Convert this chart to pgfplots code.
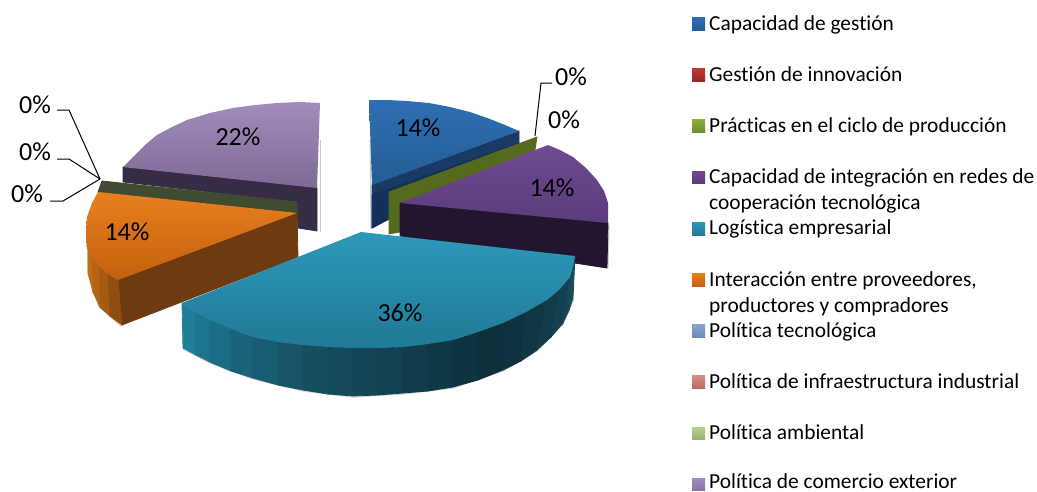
\documentclass[border=0pt]{standalone}
\usepackage{fontspec}
\setmainfont[Ligatures=NoCommon]{Carlito}
\usepackage{pgfplots}
\pgfplotsset{compat=1.18}
\definecolor{tA}{HTML}{1F7F9B}
\definecolor{tB}{HTML}{175468}
\definecolor{tC}{HTML}{0D2F3B}
\definecolor{tD}{HTML}{1A5060}
\definecolor{oA}{HTML}{C46E14}
\definecolor{oB}{HTML}{7A3F0F}
\definecolor{c1}{HTML}{2F6EB3}\definecolor{c1b}{HTML}{245D95}
\definecolor{c2}{HTML}{A28CBC}\definecolor{c2b}{HTML}{7D6A96}
\definecolor{c3}{HTML}{E8801F}\definecolor{c3b}{HTML}{C4600F}
\definecolor{c4}{HTML}{6F4A92}\definecolor{c4b}{HTML}{5A3C7C}
\definecolor{c5}{HTML}{2E98B8}\definecolor{c5b}{HTML}{1F7A96}
\definecolor{k2}{HTML}{C03A38}\definecolor{k2b}{HTML}{96282A}
\definecolor{k3}{HTML}{8CB040}\definecolor{k3b}{HTML}{6F8E2C}
\definecolor{k7}{HTML}{8AA6D2}\definecolor{k7b}{HTML}{6C8ABA}
\definecolor{k8}{HTML}{DC8C8A}\definecolor{k8b}{HTML}{B86C6A}
\definecolor{k9}{HTML}{B4D290}\definecolor{k9b}{HTML}{96B474}
\definecolor{k10}{HTML}{A28CBC}\definecolor{k10b}{HTML}{8874A2}
\definecolor{f1}{HTML}{1A3A66}\definecolor{f2}{HTML}{12305A}
\definecolor{f3}{HTML}{372C46}\definecolor{f4}{HTML}{3F4C2F}
\definecolor{f5}{HTML}{6E3A10}\definecolor{f6}{HTML}{55691F}
\definecolor{f7}{HTML}{221530}
\newcommand{\band}[2]{\addplot[fill=#1,draw=#1,line width=0.8pt] coordinates {#2} --cycle;}
\newcommand{\grd}[3]{\addplot[top color=#1,bottom color=#2,draw=none] coordinates {#3} --cycle;}
\newcommand{\lab}[3]{\node[font=\fontsize{26}{30}\selectfont,inner sep=0pt] at (axis cs:#1,#2) {#3};}
\newcommand{\legt}[2]{\node[font=\fontsize{21.4}{25}\selectfont,anchor=base west,inner sep=0pt] at (axis cs:709,#1) {#2};}
\begin{document}
\begin{tikzpicture}
\begin{axis}[scale only axis,width=1037pt,height=491pt,xmin=0,xmax=1037,ymin=0,ymax=491,y dir=reverse,axis lines=none,clip=false,no markers,every axis plot/.append style={forget plot}]
% shadows
\addplot[draw=black!22,line width=1pt] coordinates {(370,140) (371,228)};
\addplot[draw=black!22,line width=1pt] coordinates {(320,140) (320,232)};
\addplot[draw=black!18,line width=1.2pt] coordinates {(183,349) (210,363) (253,379) (303,391) (353,397) (403,394) (453,388) (503,371) (537,351) (563,324) (574,299)};
\addplot[draw=black!18,line width=1pt] coordinates {(87,235) (88,274) (99,307) (121,326)};
\addplot[draw=black!22,line width=1pt] coordinates {(609,225) (608,268)};
% blue slice
\band{f1}{(372,185) (519,131) (519,150) (372,228)}
\band{f2}{(372,195) (519,143) (519,150) (372,228)}
\grd{c1}{c1b}{(369,100) (388,100) (407,101) (429,103) (450,107) (470,112) (490,119) (505,125) (519,131) (372,185)}
% lilac slice
\band{f3}{(123,167) (317,188) (317,231) (298,228) (297,202) (123,182)}
\grd{c2}{c2b}{(123,167) (133,157) (145,145) (157,135) (172,127) (187,120) (210,113) (233,108) (255,105) (277,103) (300,102) (320,103) (317,188)}
% dark green strip (left)
\band{f4}{(102,181) (297,202) (297,213) (98,192)}
% orange slice
\band{f5}{(118,280) (297,213) (298,257) (122,325)}
\band{oA}{(87,225) (87,247) (92,258) (93,292) (88,273) (88,240)}
\band{oA!80!oB}{(92,258) (100,267) (100,307) (93,292)}
\band{oA!60!oB}{(100,267) (108,274) (110,316) (100,307)}
\band{oA!30!oB}{(108,274) (118,280) (122,325) (110,316)}
\grd{c3}{c3b}{(98,192) (92,203) (87,217) (86,232) (87,247) (92,258) (100,267) (108,274) (118,280) (297,213)}
% green slice (right)
\band{f6}{(389,192) (537,137) (535,150) (400,203) (400,232) (389,234)}
% purple slice
\band{f7}{(400,203) (608,223) (607,268) (400,236)}
\grd{c4}{c4b}{(400,203) (548,145) (560,150) (573,157) (586,168) (597,180) (604,191) (608,203) (608,223)}
% teal slice
\band{tA}{(182,303) (195,312) (196,355) (183,348)}
\band{tA!75!tB}{(195,312) (210,320) (210,362) (196,355)}
\band{tA!55!tB}{(210,320) (231,329) (231,371) (210,362)}
\band{tA!35!tB}{(231,329) (253,337) (253,378) (231,371)}
\band{tA!18!tB}{(253,337) (278,342) (278,385) (253,378)}
\band{tB}{(278,342) (303,345) (303,390) (278,385)}
\band{tB!85!tC}{(303,345) (328,347) (328,394) (303,390)}
\band{tB!72!tC}{(328,347) (353,348) (353,396) (328,394)}
\band{tB!60!tC}{(353,348) (378,348) (378,395) (353,396)}
\band{tB!48!tC}{(378,348) (403,347) (403,393) (378,395)}
\band{tB!36!tC}{(403,347) (428,344) (428,391) (403,393)}
\band{tB!24!tC}{(428,344) (453,340) (453,387) (428,391)}
\band{tB!12!tC}{(453,340) (478,332) (478,380) (453,387)}
\band{tC}{(478,332) (503,323) (503,370) (478,380)}
\band{tC!90!tD}{(503,323) (526,312) (521,361) (503,370)}
\band{tC!75!tD}{(526,312) (547,300) (537,350) (521,361)}
\band{tC!60!tD}{(547,300) (560,289) (551,337) (537,350)}
\band{tC!45!tD}{(560,289) (570,277) (563,323) (551,337)}
\band{tC!30!tD}{(570,277) (573,266) (569,310) (563,323)}
\band{tC!15!tD}{(573,266) (575,256) (573,298) (569,310)}
\grd{c5}{c5b}{(361,232) (575,256) (573,266) (570,277) (560,289) (547,300) (526,312) (503,323) (478,332) (453,340) (428,344) (403,347) (378,348) (353,348) (328,347) (303,345) (278,342) (253,337) (231,329) (210,320) (195,312) (182,303)}
% leaders
\addplot[draw=black,line width=1pt] coordinates {(57,110) (69,110) (100,179)};
\addplot[draw=black,line width=1pt] coordinates {(57,159) (69,159) (100,179)};
\addplot[draw=black,line width=1pt] coordinates {(50,201) (63,201) (100,179)};
\addplot[draw=black,line width=1pt] coordinates {(535,136) (541,83) (552,83)};
% data labels
\lab{418}{128}{14\%}
\lab{571}{77}{0\%}
\lab{564}{120}{0\%}
\lab{552}{188}{14\%}
\lab{400}{313}{36\%}
\lab{127}{232}{14\%}
\lab{238}{137}{22\%}
\lab{35}{105}{0\%}
\lab{35}{152}{0\%}
\lab{27}{194}{0\%}
% legend keys
\grd{c1}{c1b}{(692,30) (705,30) (705,17) (692,17)}
\grd{k2}{k2b}{(692,81) (705,81) (705,68) (692,68)}
\grd{k3}{k3b}{(692,132) (705,132) (705,119) (692,119)}
\grd{c4}{c4b}{(692,183) (705,183) (705,171) (692,171)}
\grd{c5}{c5b}{(692,235) (705,235) (705,222) (692,222)}
\grd{c3}{c3b}{(692,286) (705,286) (705,273) (692,273)}
\grd{k7}{k7b}{(692,337) (705,337) (705,324) (692,324)}
\grd{k8}{k8b}{(692,388) (705,388) (705,375) (692,375)}
\grd{k9}{k9b}{(692,439) (705,439) (705,427) (692,427)}
\grd{k10}{k10b}{(692,490) (705,490) (705,478) (692,478)}
\legt{30}{Capacidad de gestión}
\legt{81}{Gestión de innovación}
\legt{132}{Prácticas en el ciclo de producción}
\legt{183}{Capacidad de integración en redes de}
\legt{209}{cooperación tecnológica}
\legt{234}{Logística empresarial}
\legt{286}{Interacción entre proveedores,}
\legt{312}{productores y compradores}
\legt{337}{Política tecnológica}
\legt{388}{Política de infraestructura industrial}
\legt{439}{Política ambiental}
\legt{488}{Política de comercio exterior}
\end{axis}
\pgfresetboundingbox
\path[use as bounding box] (0,0) rectangle (1037pt,491pt);
\end{tikzpicture}
\end{document}
